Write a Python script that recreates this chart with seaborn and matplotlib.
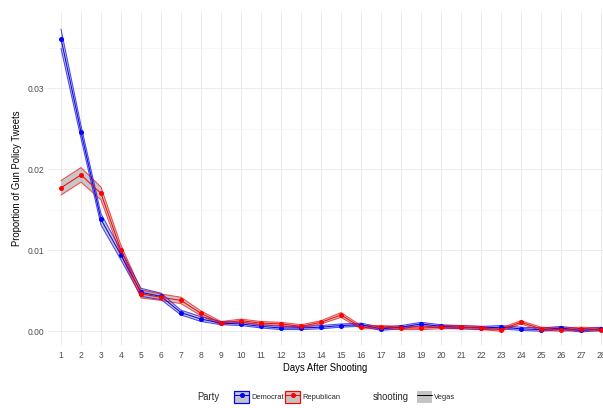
import numpy as np
import pandas as pd
import matplotlib
matplotlib.use("Agg")
import matplotlib.pyplot as plt
import seaborn as sns
from matplotlib.patches import Patch
from matplotlib.lines import Line2D
from matplotlib.legend_handler import HandlerTuple

days = list(range(1, 29))
dem_prop = [0.0361, 0.0246, 0.0138, 0.0094, 0.0048, 0.0043, 0.0023, 0.0015, 0.0010, 0.0009,
            0.0006, 0.0004, 0.0004, 0.0005, 0.0007, 0.0008, 0.0003, 0.0005, 0.0009, 0.0006,
            0.0005, 0.0004, 0.0005, 0.0003, 0.0002, 0.0004, 0.0001, 0.0003]
dem_ci = [0.0012, 0.0008, 0.0007, 0.0006, 0.0005, 0.0004, 0.0003, 0.0003, 0.0002, 0.0002,
          0.0002, 0.0002, 0.0002, 0.0002, 0.0002, 0.0002, 0.0002, 0.0002, 0.0002, 0.0002,
          0.0002, 0.0002, 0.0002, 0.0002, 0.0002, 0.0002, 0.0002, 0.0002]
rep_prop = [0.0177, 0.0193, 0.0170, 0.0100, 0.0046, 0.0042, 0.0038, 0.0022, 0.0010, 0.0013,
            0.0010, 0.0009, 0.0006, 0.0011, 0.0020, 0.0005, 0.0005, 0.0004, 0.0004, 0.0005,
            0.0005, 0.0004, 0.0002, 0.0011, 0.0003, 0.0002, 0.0003, 0.0002]
rep_ci = [0.0009, 0.0009, 0.0008, 0.0006, 0.0005, 0.0004, 0.0004, 0.0003, 0.0002, 0.0002,
          0.0002, 0.0002, 0.0002, 0.0002, 0.0003, 0.0002, 0.0002, 0.0002, 0.0002, 0.0002,
          0.0002, 0.0002, 0.0002, 0.0002, 0.0002, 0.0002, 0.0002, 0.0002]
parties = ["Democrat", "Republican"]
colors = {"Democrat": "#0000FF", "Republican": "#FF0000"}
y_ticks = [0.00, 0.01, 0.02, 0.03]
y_tick_labels = ["0.00", "0.01", "0.02", "0.03"]
y_minor = [0.005, 0.015, 0.025, 0.035]

df = pd.DataFrame({
    "day": days * 2,
    "prop": dem_prop + rep_prop,
    "ci": dem_ci + rep_ci,
    "party": ["Democrat"] * len(days) + ["Republican"] * len(days),
})
df["lo"] = df["prop"] - df["ci"]
df["hi"] = df["prop"] + df["ci"]

sns.set_theme(style="whitegrid")
plt.rcParams["font.family"] = ["Liberation Sans", "DejaVu Sans"]

fig = plt.figure(figsize=(603 / 72, 408 / 72), dpi=72)
ax = fig.add_axes([48 / 603, 1 - 345 / 408, 555 / 603, 333 / 408])
ax.set_facecolor("white")

for p in parties:
    sub = df[df["party"] == p]
    ax.fill_between(sub["day"], sub["lo"], sub["hi"], facecolor="#9a9a9a", alpha=0.55,
                    edgecolor="none", zorder=2)
    ax.plot(sub["day"], sub["lo"], color=colors[p], lw=1.0, alpha=0.7, zorder=3)
    ax.plot(sub["day"], sub["hi"], color=colors[p], lw=1.0, alpha=0.7, zorder=3)

sns.lineplot(data=df, x="day", y="prop", hue="party", palette=colors, marker="o",
             markersize=5, markeredgewidth=0, lw=1.0, legend=False, ax=ax, zorder=4,
             errorbar=None)

ax.set_xlim(0.35, 28.1)
ax.set_ylim(-0.0017, 0.0394)
ax.set_xticks(days)
ax.set_xticklabels([str(d) for d in days])
ax.set_yticks(y_ticks)
ax.set_yticklabels(y_tick_labels)
ax.set_yticks(y_minor, minor=True)
ax.grid(which="major", color="#EBEBEB", lw=1.0)
ax.grid(which="minor", axis="y", color="#F3F3F3", lw=0.6)
ax.grid(which="minor", axis="x", visible=False)
for s in ax.spines.values():
    s.set_visible(False)
ax.tick_params(axis="both", which="both", length=0, labelsize=8.5, colors="#4D4D4D")
ax.tick_params(axis="x", pad=6)
ax.tick_params(axis="y", pad=4)
ax.set_xlabel("Days After Shooting", fontsize=9.5, color="black", labelpad=3)
ax.set_ylabel("Proportion of Gun Policy Tweets", fontsize=9.5, color="black", labelpad=5)

# Legends
def party_handle(c):
    return (Patch(facecolor="#c4c4c4", edgecolor=c, lw=1.2),
            Line2D([0], [0], color=c, marker="o", markersize=4, lw=1))

hmap = {tuple: HandlerTuple(ndivide=1, pad=0)}
ly = 1 - 397 / 408
fig.text(197 / 603, ly, "Party", fontsize=9.5, va="center", ha="left")
leg1 = fig.legend(handles=[party_handle(colors[p]) for p in parties], labels=parties,
                  handler_map=hmap,
                  loc="center left", bbox_to_anchor=(234 / 603, ly), ncol=2,
                  frameon=False, fontsize=7.5, handlelength=2.0, handleheight=2.0,
                  handletextpad=0.3, columnspacing=0.2, borderpad=0, borderaxespad=0)
fig.text(373 / 603, ly, "shooting", fontsize=9.5, va="center", ha="left")
vegas_handle = (Patch(facecolor="#c4c4c4", edgecolor="none"),
                Line2D([0], [0], color="black", lw=1))
leg2 = fig.legend(handles=[vegas_handle], labels=["Vegas"], handler_map=hmap,
                  loc="center left", bbox_to_anchor=(417 / 603, ly),
                  frameon=False, fontsize=7.5, handlelength=2.0, handleheight=2.0,
                  handletextpad=0.3, borderpad=0, borderaxespad=0)

fig.savefig("out.png", dpi=72, facecolor="white")
